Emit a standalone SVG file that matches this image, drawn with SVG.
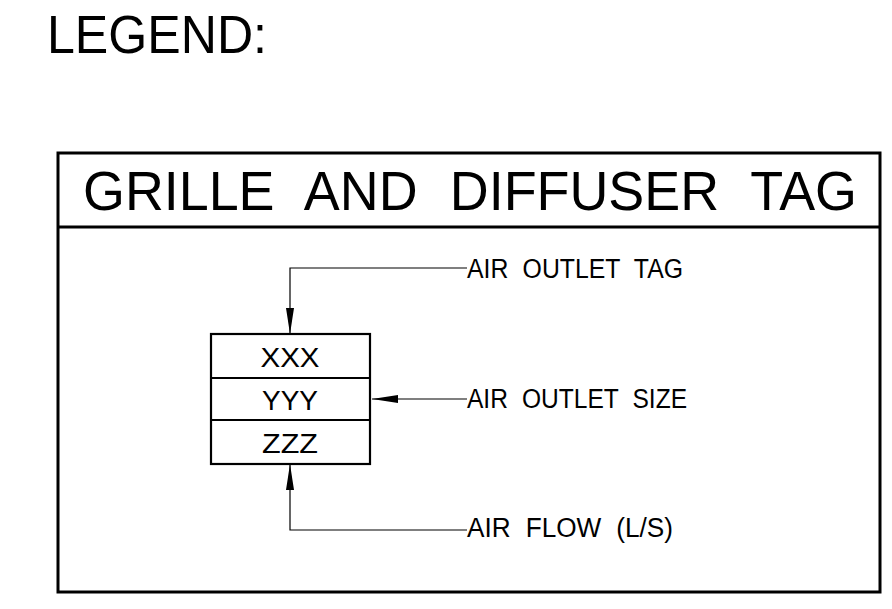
<svg xmlns="http://www.w3.org/2000/svg" width="892" height="609" viewBox="0 0 892 609">
<style>
text{font-family:"Liberation Sans",Arial,sans-serif;fill:#000}
.frame{fill:none;stroke:#000;stroke-width:3}
.cell{fill:none;stroke:#000;stroke-width:2.2}
.lead{fill:none;stroke:#000;stroke-width:1.2}
.lbl{font-size:27px;word-spacing:8px}
.val{font-size:28px;text-anchor:middle}
</style>
<defs>
<marker id="arr" markerUnits="userSpaceOnUse" viewBox="0 0 26 8" refX="26" refY="4" markerWidth="26" markerHeight="8" orient="auto">
<path d="M0,0 L26,4 L0,8 Z" fill="#000"/>
</marker>
</defs>
<rect width="892" height="609" fill="#fff"/>
<g id="heading">
<text x="47" y="53" font-size="54" textLength="220" lengthAdjust="spacingAndGlyphs">LEGEND:</text>
</g>
<g id="frame">
<rect class="frame" x="58" y="153" width="822" height="439"/>
<line class="frame" x1="58" y1="227" x2="880" y2="227"/>
<text x="83" y="210" font-size="56" word-spacing="18" textLength="774" lengthAdjust="spacingAndGlyphs">GRILLE AND DIFFUSER TAG</text>
</g>
<g id="tag">
<rect class="cell" x="211" y="334" width="159" height="130"/>
<line class="cell" x1="211" y1="378" x2="370" y2="378"/>
<line class="cell" x1="211" y1="420" x2="370" y2="420"/>
<text class="val" x="290" y="367" textLength="59" lengthAdjust="spacingAndGlyphs">XXX</text>
<text class="val" x="290" y="410" textLength="56" lengthAdjust="spacingAndGlyphs">YYY</text>
<text class="val" x="290" y="453" textLength="56" lengthAdjust="spacingAndGlyphs">ZZZ</text>
</g>
<g id="label-tag"><text class="lbl" x="467" y="278" textLength="216" lengthAdjust="spacingAndGlyphs">AIR OUTLET TAG</text></g>
<g id="label-size"><text class="lbl" x="467" y="408" textLength="220" lengthAdjust="spacingAndGlyphs">AIR OUTLET SIZE</text></g>
<g id="label-flow"><text class="lbl" x="467" y="537" textLength="206" lengthAdjust="spacingAndGlyphs">AIR FLOW (L/S)</text></g>
<g id="connectors">
<path class="lead" d="M467,268 H290 V334" marker-end="url(#arr)"/>
<path class="lead" d="M467,399 H372" marker-end="url(#arr)"/>
<path class="lead" d="M467,530 H290 V464" marker-end="url(#arr)"/>
</g>
</svg>
